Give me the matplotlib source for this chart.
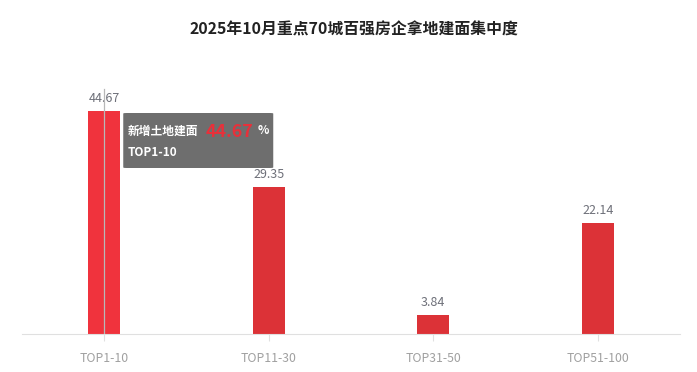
import matplotlib.pyplot as plt
from matplotlib.patches import FancyBboxPatch
import numpy as np

plt.rcParams['font.family'] = ['Noto Sans CJK SC', 'DejaVu Sans']

categories = ['TOP1-10', 'TOP11-30', 'TOP31-50', 'TOP51-100']
values = [44.67, 29.35, 3.84, 22.14]
series_name = '新增土地建面'
highlight = 0

fig = plt.figure(figsize=(6.97, 3.72), dpi=100)
ax = fig.add_axes([22 / 697, 1 - 334 / 372, 658 / 697, 250 / 372])

x = np.arange(len(categories))
colors = ['#f0333d' if i == highlight else '#dc3237' for i in range(len(categories))]
bar_w = 32 / 164.5
ax.bar(x, values, width=bar_w, color=colors, zorder=2)

for xi, v in zip(x, values):
    ax.text(xi, v + 1.2, f'{v:.2f}', ha='center', va='bottom', fontsize=9, color='#6e7079')

ax.set_xlim(-0.5, len(categories) - 0.5)
ax.set_ylim(0, 50)
ax.set_yticks([])
ax.set_xticks(x)
ax.set_xticklabels(categories, fontsize=8.8, color='#a0a0a0')
ax.tick_params(axis='x', length=5, color='#e0e0e0', pad=8)
for s in ['top', 'right', 'left']:
    ax.spines[s].set_visible(False)
ax.spines['bottom'].set_color('#e0e0e0')

# axis pointer line
ax.plot([highlight, highlight], [0, 49], color='#b8b8b8', lw=0.9, zorder=3)

# tooltip
tx0 = highlight + (124 - 105) / 164.5
tw = 150 / 164.5
ty0 = (334 - 168) / 5.0
th = 55 / 5.0
box = FancyBboxPatch((tx0, ty0), tw, th, boxstyle='round,pad=0,rounding_size=0.02',
                     transform=ax.transData, facecolor='#6e6e6e', edgecolor='none',
                     zorder=5, mutation_aspect=5)
ax.add_patch(box)
ax.text(tx0 + 4 / 164.5, (334 - 131) / 5.0, series_name, color='white', fontsize=8.5,
        fontweight='bold', va='center', ha='left', zorder=6)
ax.text(tx0 + 82 / 164.5, (334 - 132) / 5.0, f'{values[highlight]:.2f}', color='#e8303a',
        fontsize=12.8, fontweight='bold', va='center', ha='left', zorder=6)
ax.text(tx0 + 134 / 164.5, (334 - 131) / 5.0, '%', color='white', fontsize=8.5,
        fontweight='bold', va='center', ha='left', zorder=6)
ax.text(tx0 + 4 / 164.5, (334 - 153) / 5.0, categories[highlight], color='white', fontsize=8.5,
        fontweight='bold', va='center', ha='left', zorder=6)

fig.text(354 / 697, 1 - 30 / 372, '2025年10月重点70城百强房企拿地建面集中度', ha='center', va='center',
         fontsize=11.4, fontweight='bold', color='#222222')

fig.savefig('out.png', dpi=100)
